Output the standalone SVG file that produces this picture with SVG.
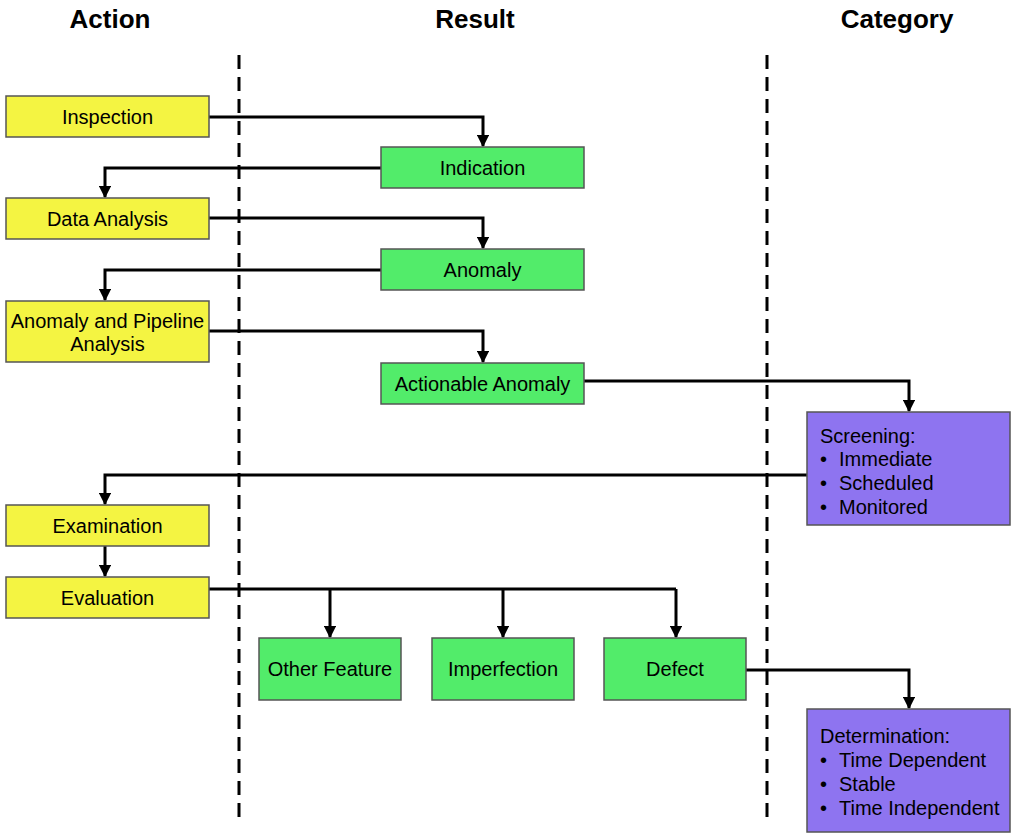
<svg xmlns="http://www.w3.org/2000/svg" width="1011" height="837" viewBox="0 0 1011 837">
  <defs>
    <marker id="arrow" viewBox="0 0 10 10" refX="9" refY="5" markerWidth="4.2" markerHeight="4.2" markerUnits="strokeWidth" orient="auto">
      <path d="M0,0 L10,5 L0,10 Z" fill="#000"/>
    </marker>
    <style>
      .head { font-family: "Liberation Sans", Arial, sans-serif; font-weight: bold; font-size: 26px; fill: #000; text-anchor: middle; }
      .lbl { font-family: "Liberation Sans", Arial, sans-serif; font-size: 20px; fill: #000; text-anchor: middle; }
      .lst { font-family: "Liberation Sans", Arial, sans-serif; font-size: 20px; fill: #000; }
      .action { fill: #F4F442; stroke: #555; stroke-width: 1.5; }
      .result { fill: #52EC6A; stroke: #555; stroke-width: 1.5; }
      .category { fill: #8E74F0; stroke: #555; stroke-width: 1.5; }
      .divider { stroke: #000; stroke-width: 3; stroke-dasharray: 14 8; fill: none; }
      .conn { stroke: #000; stroke-width: 3; fill: none; }
      .arr { marker-end: url(#arrow); }
    </style>
  </defs>

  <rect width="1011" height="837" fill="#fff"/>

  <!-- column headings -->
  <g id="headings">
    <text class="head" x="110" y="28">Action</text>
    <text class="head" x="475" y="28">Result</text>
    <text class="head" x="897" y="28">Category</text>
  </g>

  <!-- column dividers -->
  <g id="dividers">
    <line class="divider" x1="239" y1="55" x2="239" y2="820"/>
    <line class="divider" x1="767" y1="55" x2="767" y2="820"/>
  </g>

  <!-- connectors -->
  <g id="connectors">
    <path class="conn arr" d="M209,117 H483 V146"/>
    <path class="conn arr" d="M381,168 H105 V197"/>
    <path class="conn arr" d="M209,218 H483 V248"/>
    <path class="conn arr" d="M381,270 H105 V300"/>
    <path class="conn arr" d="M209,331 H483 V362"/>
    <path class="conn arr" d="M584,381 H909 V411"/>
    <path class="conn arr" d="M807,475 H105 V504"/>
    <path class="conn arr" d="M105,546 V576"/>
    <path class="conn" d="M209,589 H676"/>
    <path class="conn arr" d="M330,589 V637"/>
    <path class="conn arr" d="M503,589 V637"/>
    <path class="conn arr" d="M676,589 V637"/>
    <path class="conn arr" d="M746,670 H909 V708"/>
  </g>

  <!-- action nodes -->
  <g id="inspection">
    <rect class="action" x="6" y="96" width="203" height="41"/>
    <text class="lbl" x="107.5" y="124">Inspection</text>
  </g>
  <g id="data-analysis">
    <rect class="action" x="6" y="198" width="203" height="41"/>
    <text class="lbl" x="107.5" y="226">Data Analysis</text>
  </g>
  <g id="anomaly-pipeline-analysis">
    <rect class="action" x="6" y="301" width="203" height="61"/>
    <text class="lbl" x="107.5" y="328">Anomaly and Pipeline</text>
    <text class="lbl" x="107.5" y="351">Analysis</text>
  </g>
  <g id="examination">
    <rect class="action" x="6" y="505" width="203" height="41"/>
    <text class="lbl" x="107.5" y="533">Examination</text>
  </g>
  <g id="evaluation">
    <rect class="action" x="6" y="577" width="203" height="41"/>
    <text class="lbl" x="107.5" y="605">Evaluation</text>
  </g>

  <!-- result nodes -->
  <g id="indication">
    <rect class="result" x="381" y="147" width="203" height="41"/>
    <text class="lbl" x="482.5" y="175">Indication</text>
  </g>
  <g id="anomaly">
    <rect class="result" x="381" y="249" width="203" height="41"/>
    <text class="lbl" x="482.5" y="277">Anomaly</text>
  </g>
  <g id="actionable-anomaly">
    <rect class="result" x="381" y="363" width="203" height="41"/>
    <text class="lbl" x="482.5" y="391">Actionable Anomaly</text>
  </g>
  <g id="other-feature">
    <rect class="result" x="259" y="638" width="142" height="62"/>
    <text class="lbl" x="330" y="676">Other Feature</text>
  </g>
  <g id="imperfection">
    <rect class="result" x="432" y="638" width="142" height="62"/>
    <text class="lbl" x="503" y="676">Imperfection</text>
  </g>
  <g id="defect">
    <rect class="result" x="604" y="638" width="142" height="62"/>
    <text class="lbl" x="675" y="676">Defect</text>
  </g>

  <!-- category nodes -->
  <g id="screening">
    <rect class="category" x="807" y="412" width="203" height="113"/>
    <text class="lst" x="820" y="443">Screening:</text>
    <text class="lst" x="820" y="466">•</text><text class="lst" x="839" y="466">Immediate</text>
    <text class="lst" x="820" y="490">•</text><text class="lst" x="839" y="490">Scheduled</text>
    <text class="lst" x="820" y="514">•</text><text class="lst" x="839" y="514">Monitored</text>
  </g>
  <g id="determination">
    <rect class="category" x="807" y="709" width="203" height="123"/>
    <text class="lst" x="820" y="743">Determination:</text>
    <text class="lst" x="820" y="767">•</text><text class="lst" x="839" y="767">Time Dependent</text>
    <text class="lst" x="820" y="791">•</text><text class="lst" x="839" y="791">Stable</text>
    <text class="lst" x="820" y="815">•</text><text class="lst" x="839" y="815">Time Independent</text>
  </g>
</svg>
